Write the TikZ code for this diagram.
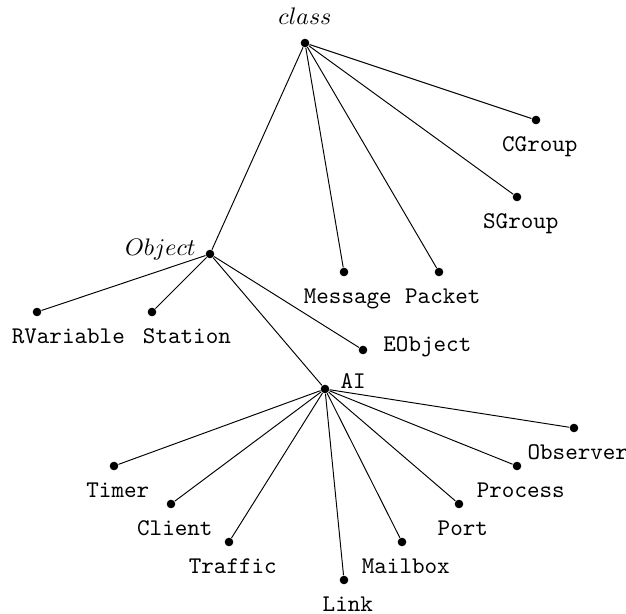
\documentclass[tikz,border=0pt]{standalone}
\usepackage{tikz}

\begin{document}
\begin{tikzpicture}[x=0.0147cm,y=-0.0147cm,
  dot/.style={circle,fill=black,inner sep=0pt,minimum size=3.6pt},
  tl/.style={font=\ttfamily,label distance=1.5pt,xshift=1.6pt}]

\useasboundingbox (0,0) rectangle (626,614);

\node [dot, label={[label distance=2pt]above:$class$}] (class) at (305,43) {};
\node [dot, label={[tl]below:CGroup}] (cgroup) at (536,120) {};
\node [dot, label={[tl]below:SGroup}] (sgroup) at (517,197) {};
\node [dot, label={[label distance=0.5pt,yshift=2pt]left:$Object$}] (object) at (210,254) {};
\node [dot, label={[tl]below:Message}] (message) at (344,272) {};
\node [dot, label={[tl]below:Packet}] (packet) at (439,272) {};
\node [dot, label={[tl,xshift=11.5pt]below:RVariable}] (rvariable) at (37,312) {};
\node [dot, label={[tl,xshift=13pt]below:Station}] (station) at (152,312) {};
\node [dot, label={[font=\ttfamily,label distance=3pt,yshift=1.5pt]right:EObject}] (eobject) at (363,350) {};
\node [dot, label={[font=\ttfamily,label distance=1pt,yshift=3.5pt]right:AI}] (ai) at (325,389) {};

\node [dot, label={[tl]below:Observer}] (observer) at (574,428) {};
\node [dot, label={[tl]below:Process}] (process) at (517,466) {};
\node [dot, label={[tl]below:Port}] (port) at (459,504) {};
\node [dot, label={[tl]below:Mailbox}] (mailbox) at (402,542) {};
\node [dot, label={[tl]below:Link}] (link) at (344,580) {};
\node [dot, label={[tl]below:Traffic}] (traffic) at (229,542) {};
\node [dot, label={[tl]below:Client}] (client) at (171,504) {};
\node [dot, label={[tl]below:Timer}] (timer) at (114,466) {};

\draw (class) -- (object);
\draw (class) -- (message);
\draw (class) -- (packet);
\draw (class) -- (sgroup);
\draw (class) -- (cgroup);

\draw (object) -- (rvariable);
\draw (object) -- (station);
\draw (object) -- (ai);
\draw (object) -- (eobject);

\draw (ai) -- (timer);
\draw (ai) -- (client);
\draw (ai) -- (traffic);
\draw (ai) -- (link);
\draw (ai) -- (mailbox);
\draw (ai) -- (port);
\draw (ai) -- (process);
\draw (ai) -- (observer);

\end{tikzpicture}
\end{document}
